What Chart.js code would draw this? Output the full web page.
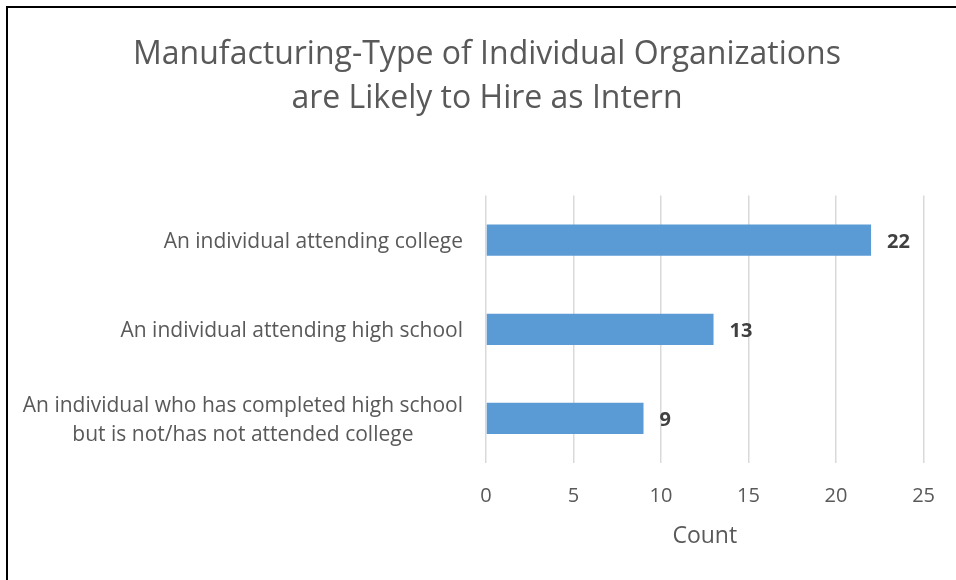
<!DOCTYPE html>
<html>
<head>
<meta charset="utf-8">
<script src="https://cdn.jsdelivr.net/npm/chart.js@4/dist/chart.umd.min.js"></script>
<style>
    body { margin: 0; background: #fff; overflow: hidden; }
    .wrap { position: relative; width: 956px; height: 580px; }
    .frame {
        position: absolute; left: 6px; top: 6px; right: -10px; bottom: -10px;
        border-left: 2px solid #000; border-top: 2px solid #000;
        pointer-events: none;
    }
</style>
</head>
<body>
<div class="wrap">
    <canvas id="chart" width="956" height="580"></canvas>
    <div class="frame"></div>
</div>
<script>

let chartTitle = [
    'Manufacturing-Type of Individual Organizations',
    'are Likely to Hire as Intern'
];

let categories = [
    ['An individual attending college'],
    ['An individual attending high school'],
    ['An individual who has completed high school', 'but is not/has not attended college']
];

let counts = [22, 13, 9];

let axisTitle = 'Count';

let fontFamily = '"Open Sans", Lato, sans-serif';

// category labels: block right-aligned to the axis, lines centred inside block
let categoryLabelsPlugin = {
    id: 'categoryLabels',
    afterDraw: function(chart) {
        let ctx = chart.ctx;
        let yScale = chart.scales.y;
        let right = chart.chartArea.left - 23;
        ctx.save();
        ctx.font = '21px ' + fontFamily;
        ctx.fillStyle = '#595959';
        ctx.textAlign = 'center';
        ctx.textBaseline = 'middle';
        let lineHeight = 29;
        for (let i = 0; i < categories.length; i++) {
            let lines = categories[i];
            let maxW = 0;
            lines.forEach(function(l) { maxW = Math.max(maxW, ctx.measureText(l).width); });
            let cy = yScale.getPixelForValue(i) + 2;
            let top = cy - (lines.length - 1) * lineHeight / 2;
            for (let j = 0; j < lines.length; j++) {
                ctx.fillText(lines[j], right - maxW / 2, top + j * lineHeight);
            }
        }
        ctx.restore();
    }
};

// bold value labels to the right of each bar
let valueLabelsPlugin = {
    id: 'valueLabels',
    afterDatasetsDraw: function(chart) {
        let ctx = chart.ctx;
        let meta = chart.getDatasetMeta(0);
        ctx.save();
        ctx.font = 'bold 20px ' + fontFamily;
        ctx.fillStyle = '#404040';
        ctx.textAlign = 'left';
        ctx.textBaseline = 'middle';
        meta.data.forEach(function(bar, i) {
            ctx.fillText(String(counts[i]), bar.x + 16, bar.y + 2);
        });
        ctx.restore();
    }
};

let data = {
    labels: categories.map(function(c) { return c.join(' '); }),
    datasets: [{
        label: axisTitle,
        data: counts,
        backgroundColor: '#5B9BD5',
        borderWidth: 0,
        categoryPercentage: 1,
        barPercentage: 0.35
    }]
};

let config = {
    type: 'bar',
    data: data,
    options: {
        indexAxis: 'y',
        responsive: false,
        animation: false,
        layout: {
            padding: { left: 48, right: 30, top: 0, bottom: 0 }
        },
        plugins: {
            legend: { display: false },
            tooltip: { enabled: false },
            title: {
                display: true,
                text: chartTitle,
                color: '#595959',
                font: { family: fontFamily, size: 32, weight: 'normal', lineHeight: 1.4 },
                padding: { top: 32, bottom: 74 }
            }
        },
        scales: {
            x: {
                min: 0,
                max: 25,
                ticks: {
                    stepSize: 5,
                    color: '#595959',
                    padding: 21,
                    font: { family: fontFamily, size: 20 }
                },
                grid: { color: '#D9D9D9', lineWidth: 1.5, drawTicks: false },
                border: { display: false },
                title: {
                    display: true,
                    text: axisTitle,
                    color: '#595959',
                    font: { family: fontFamily, size: 23 },
                    padding: { top: 14, bottom: 30 }
                },
                afterFit: function(scale) { scale.height = 117; }
            },
            y: {
                ticks: { display: false },
                grid: { display: false },
                border: { display: false },
                afterFit: function(scale) { scale.width = 438; }
            }
        }
    },
    plugins: [categoryLabelsPlugin, valueLabelsPlugin]
};

new Chart(document.getElementById('chart'), config);
</script>
</body>
</html>
